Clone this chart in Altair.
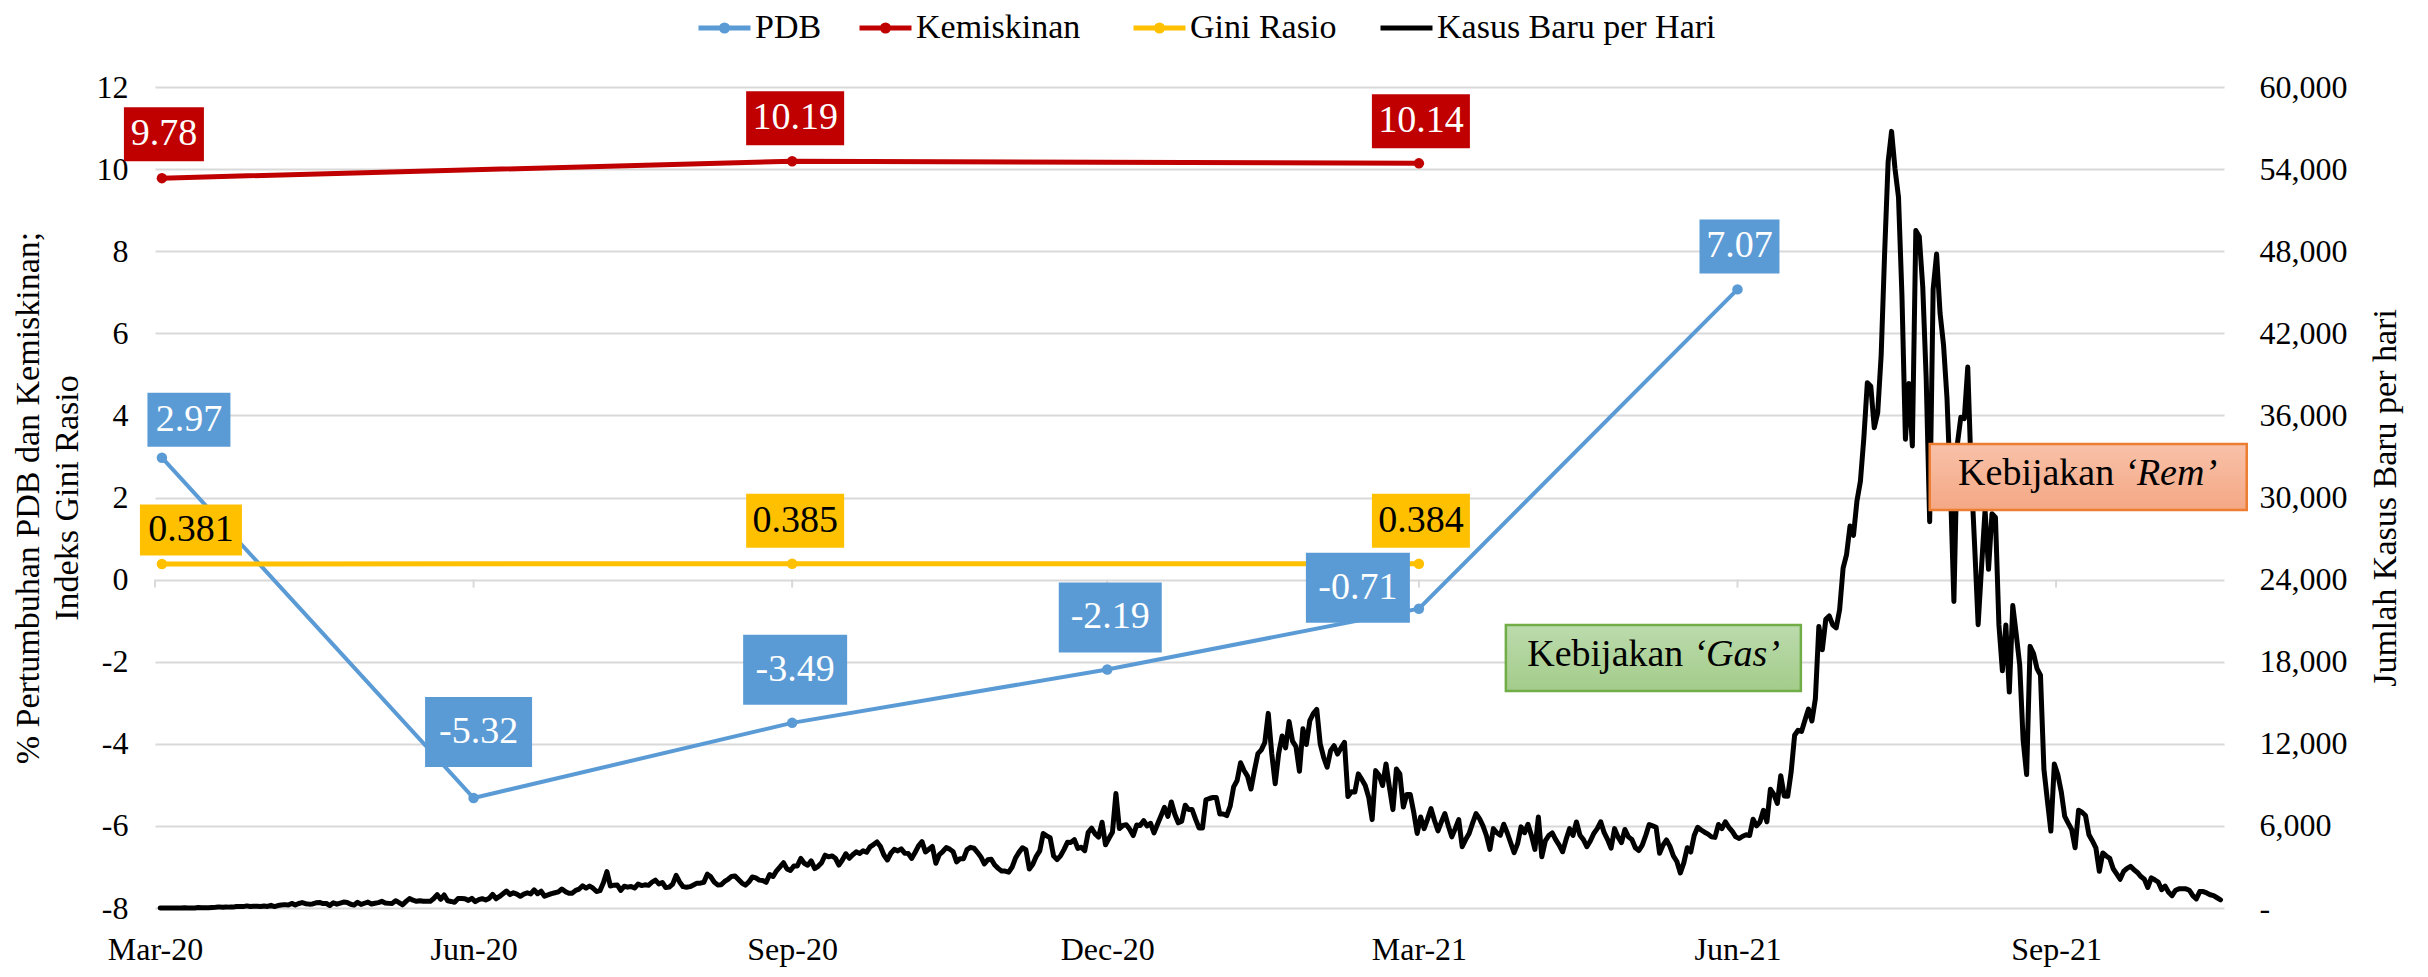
import altair as alt
import pandas as pd

FONT = "Liberation Serif"

# ---------------- Kasus Baru per Hari (daily new cases) ----------------
mar20 = [2, 0, 0, 0, 2, 0, 2, 13, 8, 7, 0, 35, 27, 21, 17, 38, 55, 82, 60, 81, 64, 65, 106, 105, 103, 153, 109, 130, 129, 114]
apr20 = [149, 113, 196, 106, 181, 218, 247, 218, 337, 219, 330, 399, 316, 282, 297, 380, 407, 325, 327, 185, 375, 283, 357, 436, 396, 275, 214, 415, 260, 347]
may20 = [433, 292, 349, 395, 484, 367, 338, 336, 533, 387, 233, 484, 689, 568, 490, 529, 489, 496, 486, 693, 973, 634, 949, 526, 479, 415, 686, 687, 678, 557, 700]
jun20 = [467, 609, 684, 585, 703, 993, 672, 847, 1043, 1241, 979, 1111, 1014, 857, 1017, 1106, 1031, 1331, 1041, 1226, 862, 954, 1051, 1113, 1178, 1385, 1198, 1082, 1082, 1293]
jul20 = [1385, 1624, 1447, 1607, 1447, 1209, 1268, 1853, 2657, 1611, 1671, 1681, 1282, 1591, 1522, 1574, 1462, 1752, 1639, 1693, 1655, 1882, 2040, 1761, 1868, 1492, 1525, 1748, 2381, 1904, 1560]
aug20 = [1519, 1560, 1679, 1815, 1815, 1882, 2473, 2277, 1893, 1687, 1693, 1942, 2098, 2307, 2345, 2081, 1821, 1673, 1902, 2266, 2197, 2037, 2006, 1877, 2447, 2306, 2719, 3003, 3308, 2858, 2743]
sep20 = [3075, 3075, 3622, 3269, 3128, 3444, 2880, 3046, 3307, 3861, 3737, 3806, 3636, 3141, 3507, 3963, 3635, 3891, 4106, 3989, 4176, 4071, 4465, 4634, 4823, 4494, 3874, 3509, 4002, 4284]
oct20 = [4174, 4317, 4007, 3992, 3622, 4056, 4538, 4850, 4094, 4294, 4497, 3267, 3906, 4127, 4411, 4301, 4105, 3373, 3602, 3602, 4267, 4432, 4369, 4070, 3732, 3222, 3520, 3565, 3143, 2897, 2696]
nov20 = [2696, 2618, 2973, 3650, 4065, 4400, 4262, 2853, 3200, 3779, 4173, 5444, 5272, 5131, 3807, 3535, 3807, 4265, 4798, 4792, 4998, 4360, 4442, 4192, 5534, 5828, 5418, 5183, 6267, 4617]
dec20 = [5092, 5533, 8369, 5803, 6027, 6089, 5754, 5292, 6058, 6033, 6388, 5998, 6189, 5489, 6120, 6725, 7354, 6689, 7751, 6848, 6226, 6347, 7514, 7199, 7200, 6500, 5854, 5854, 7903, 8002, 8074]
jan21 = [8072, 6877, 6877, 6753, 7445, 8854, 9321, 10617, 10046, 9640, 8692, 10047, 11278, 11557, 12100, 14224, 11287, 9086, 11287, 12568, 11703, 13632, 12191, 11788, 9994, 13094, 11948, 13695, 14204, 14518, 12001]
feb21 = [11000, 10290, 11500, 11860, 11250, 11700, 12100, 8150, 8500, 8470, 9800, 9400, 8950, 8100, 6460, 10040, 9700, 8950, 10530, 8800, 7190, 10160, 9800, 7380, 8300, 8300, 7000, 5450]
mar21 = [6650, 5800, 6500, 7260, 6400, 5640, 6300, 6900, 6000, 5200, 5800, 6460, 4480, 5000, 5450, 6200, 6900, 6530, 6000, 5300, 4280, 5800, 5500, 5320, 6120, 5500, 4770, 4040, 4700, 5930, 5500]
apr21 = [6120, 5300, 4280, 6650, 3750, 4900, 5300, 5490, 5000, 4600, 4110, 5000, 5800, 5300, 6290, 5320, 5000, 4480, 4900, 5450, 5800, 6300, 5500, 5000, 4380, 5800, 5200, 4780, 5740, 5200]
may21 = [5000, 4400, 4200, 4590, 5300, 6100, 6000, 5900, 4000, 4600, 4970, 4500, 3800, 3400, 2560, 3300, 4400, 4090, 5300, 5900, 5700, 5540, 5400, 5200, 5160, 6100, 5800, 6300, 5900, 5600, 5200]
jun21 = [5080, 5246, 5353, 5300, 6486, 6000, 6300, 7140, 6300, 8680, 8300, 7650, 9670, 8189, 8161, 9944, 12624, 12990, 12906, 13737, 14536, 13668, 15308, 20574, 18872, 21095, 21342, 20694, 20467, 21807]
jul21 = [24836, 25830, 27913, 27233, 29745, 31189, 34379, 38391, 38124, 35094, 36197, 40427, 47899, 54517, 56757, 54000, 51952, 44721, 34257, 38325, 33772, 49509, 49071, 45416, 38679, 28228, 45203, 47791, 43479, 41168, 37284]
aug21 = [30738, 22404, 33900, 35867, 35764, 39532, 31753, 26415, 20709, 25000, 29100, 24750, 28820, 28540, 20690, 17330, 20690, 15780, 22100, 20000, 17780, 12240, 9750, 19120, 18600, 17500, 17020, 10130, 7840, 5620, 10520]
sep21 = [9750, 8500, 6690, 6200, 5740, 4400, 7140, 7000, 6760, 5350, 4900, 4400, 2680, 4020, 3800, 3630, 2870, 2500, 2100, 2670, 2900, 3040, 2800, 2600, 2300, 2100, 1500, 2200, 2060, 1900]
oct21 = [1340, 1600, 1150, 900, 1300, 1400, 1400, 1400, 1300, 900, 660, 1200, 1200, 1100, 970, 900, 750, 600]

case_months = [
    ("2020-03-02", mar20), ("2020-04-01", apr20), ("2020-05-01", may20), ("2020-06-01", jun20),
    ("2020-07-01", jul20), ("2020-08-01", aug20), ("2020-09-01", sep20), ("2020-10-01", oct20),
    ("2020-11-01", nov20), ("2020-12-01", dec20), ("2021-01-01", jan21), ("2021-02-01", feb21),
    ("2021-03-01", mar21), ("2021-04-01", apr21), ("2021-05-01", may21), ("2021-06-01", jun21),
    ("2021-07-01", jul21), ("2021-08-01", aug21), ("2021-09-01", sep21), ("2021-10-01", oct21),
]

# ---------------- quarterly series ----------------
pdb_dates = ["2020-03-03", "2020-06-01", "2020-09-01", "2020-12-01", "2021-03-01", "2021-06-01"]
pdb_values = [2.97, -5.32, -3.49, -2.19, -0.71, 7.07]
kem_dates = ["2020-03-03", "2020-09-01", "2021-03-01"]
kem_values = [9.78, 10.19, 10.14]
gini_dates = ["2020-03-03", "2020-09-01", "2021-03-01"]
gini_values = [0.381, 0.385, 0.384]

series_names = ["PDB", "Kemiskinan", "Gini Rasio"]
case_name = "Kasus Baru per Hari"

left_ticks = [-8, -6, -4, -2, 0, 2, 4, 6, 8, 10, 12]
right_ticks = [0, 6000, 12000, 18000, 24000, 30000, 36000, 42000, 48000, 54000, 60000]
x_tick_dates = ["2020-03-01", "2020-06-01", "2020-09-01", "2020-12-01", "2021-03-01", "2021-06-01", "2021-09-01"]

left_title = ["% Pertumbuhan PDB dan Kemiskinan;", "Indeks Gini Rasio"]
right_title = "Jumlah Kasus Baru per hari"

annotations = [
    {"date": "2021-05-07T17:00:00", "cases": 18270, "word": "Kebijakan", "italic": "\u2018Gas\u2019"},
    {"date": "2021-09-10T07:00:00", "cases": 31500, "word": "Kebijakan", "italic": "\u2018Rem\u2019"},
]

# ---------------- styles ----------------
COL = {"PDB": "#5B9BD5", "Kemiskinan": "#C00000", "Gini Rasio": "#FFC000", case_name: "#000000"}
LINE_W = {"PDB": 4, "Kemiskinan": 5, "Gini Rasio": 5}
TXT_COL = {"PDB": "#FFFFFF", "Kemiskinan": "#FFFFFF", "Gini Rasio": "#000000"}
LEGEND_X = {"PDB": 552.5, "Kemiskinan": 713.5, "Gini Rasio": 987.5, case_name: 1234.5}
# (dx, dy, box width, box height) for each data label, in pixels
LABEL_BOX = {
    "PDB": [(27, -38, 83, 54), (5, -66, 107, 70), (3, -53, 104, 70), (3, -52, 103, 70), (-61, -21, 104, 70), (2, -43, 80, 54)],
    "Kemiskinan": [(2, -44, 80, 54), (3, -43, 98, 54), (2, -42, 98, 54)],
    "Gini Rasio": [(29, -34, 102, 51), (3, -43, 98, 54), (2, -43, 98, 54)],
}
ANN_STYLE = [
    {"w": 295, "h": 66, "stroke": "#70AD47", "top": "#BCDBAD", "bottom": "#A3CC8A", "split": 40},
    {"w": 317, "h": 66, "stroke": "#ED7D31", "top": "#F8C1A9", "bottom": "#F4A884", "split": 36},
]


def noon(s):
    return pd.Timestamp(s) + pd.Timedelta(hours=12)


rows = []
for start, vals in case_months:
    d0 = noon(start)
    for i, v in enumerate(vals):
        rows.append({"date": d0 + pd.Timedelta(days=i), "cases": v, "series": case_name})
cases_df = pd.DataFrame(rows)


def qdf(dates, values, name, decimals):
    return pd.DataFrame({
        "date": [pd.Timestamp(d) for d in dates],
        "value": values,
        "series": name,
        "label": [f"{v:.{decimals}f}" for v in values],
    })


pdb_df = qdf(pdb_dates, pdb_values, "PDB", 2)
kem_df = qdf(kem_dates, kem_values, "Kemiskinan", 2)
gini_df = qdf(gini_dates, gini_values, "Gini Rasio", 3)
ticks_df = pd.DataFrame({"date": [pd.Timestamp(d) for d in x_tick_dates], "value": 0})


def dt(s, hours=0):
    t = pd.Timestamp(s)
    return alt.DateTime(year=t.year, month=t.month, date=t.day, hours=hours)


x_scale = alt.Scale(domain=[dt("2020-03-01"), dt("2021-10-19", 12)], nice=False)
x_axis = alt.Axis(values=[dt(d) for d in x_tick_dates], format="%b-%y", labelFont=FONT, labelFontSize=32,
                  labelColor="#000000", labelPadding=51, labelBaseline="alphabetic", labelFlush=False,
                  labelOverlap=False, domain=False, ticks=False, grid=False, labelAngle=0, title=None)
X = alt.X("date:T", scale=x_scale, axis=x_axis)

yl_axis = alt.Axis(orient="left", values=left_ticks, labelExpr="datum.value + ''", labelFont=FONT,
                   labelFontSize=32, labelColor="#000000", labelPadding=27, domain=False, ticks=False,
                   grid=True, gridColor="#D9D9D9", gridWidth=2, title=left_title, titleFont=FONT,
                   titleFontSize=34, titleFontWeight="normal", titleColor="#000000", titlePadding=12,
                   titleLineHeight=39)
YL = alt.Y("value:Q", scale=alt.Scale(domain=[-8, 12], nice=False, zero=False), axis=yl_axis)

yr_axis = alt.Axis(orient="right", values=right_ticks,
                   labelExpr="datum.value == 0 ? '\u00a0\u00a0-' : format(datum.value, ',')",
                   labelAlign="left", labelFont=FONT, labelFontSize=32, labelColor="#000000", labelPadding=35,
                   domain=False, ticks=False, grid=False, title=right_title, titleFont=FONT, titleFontSize=34,
                   titleFontWeight="normal", titleColor="#000000", titleAngle=270, titleBaseline="top",
                   titlePadding=21)
YR = alt.Y("cases:Q", scale=alt.Scale(domain=[0, 60000], nice=False), axis=yr_axis)

# legend symbols: 52 px wide line (path spans -2..2 at scale 13), with a dot for the quarterly series
DOT_LINE = "M-2,0H2M-0.24,0A0.24,0.24,0,1,1,0.24,0A0.24,0.24,0,1,1,-0.24,0"
PLAIN_LINE = "M-2,0H2"


def series_color(name):
    legend = alt.Legend(orient="none", legendX=LEGEND_X[name], legendY=-76, title=None,
                        symbolType=PLAIN_LINE if name == case_name else DOT_LINE, symbolSize=676,
                        symbolStrokeWidth=5, labelFont=FONT, labelFontSize=34, labelColor="#000000",
                        labelOffset=13.5, padding=0, labelLimit=0)
    return alt.Color("series:N", scale=alt.Scale(domain=[name], range=[COL[name]]), legend=legend)


# ---------------- left-axis group ----------------
left_layers = [
    alt.Chart(ticks_df).mark_tick(orient="vertical", size=8, thickness=2, color="#D9D9D9", opacity=1,
                                  yOffset=4).encode(x=X, y=YL)
]
for name, df in [("PDB", pdb_df), ("Kemiskinan", kem_df), ("Gini Rasio", gini_df)]:
    left_layers.append(alt.Chart(df).mark_line(strokeWidth=LINE_W[name], strokeCap="round")
                       .encode(x=X, y=YL, color=series_color(name)))
for name, df in [("PDB", pdb_df), ("Kemiskinan", kem_df), ("Gini Rasio", gini_df)]:
    left_layers.append(alt.Chart(df).mark_point(filled=True, size=110, opacity=1, color=COL[name])
                       .encode(x=X, y=YL))
for name, df in [("PDB", pdb_df), ("Kemiskinan", kem_df), ("Gini Rasio", gini_df)]:
    for i, (dx, dy, w, h) in enumerate(LABEL_BOX[name]):
        one = df.iloc[[i]]
        path = f"M{-w/100},{-h/100}H{w/100}V{h/100}H{-w/100}Z"
        left_layers.append(alt.Chart(one).mark_point(shape=path, size=10000, filled=True, fill=COL[name],
                                                     opacity=1, strokeWidth=0, xOffset=dx, yOffset=dy)
                           .encode(x=X, y=YL))
        left_layers.append(alt.Chart(one).mark_text(font=FONT, fontSize=38, color=TXT_COL[name],
                                                    xOffset=dx, yOffset=dy, align="center",
                                                    baseline="middle")
                           .encode(x=X, y=YL, text="label:N"))
left = alt.layer(*left_layers).resolve_scale(color="independent")

# ---------------- right-axis group ----------------
right_layers = [
    alt.Chart(cases_df).mark_line(strokeWidth=5, strokeJoin="round", strokeCap="round")
    .encode(x=X, y=YR, color=series_color(case_name))
]
for ann, st in zip(annotations, ANN_STYLE):
    one = pd.DataFrame([{"date": pd.Timestamp(ann["date"]), "cases": ann["cases"],
                         "word": ann["word"], "italic": ann["italic"]}])
    w, h = st["w"], st["h"]
    path = f"M{-w/100},{-h/100}H{w/100}V{h/100}H{-w/100}Z"
    grad = {"gradient": "linear", "x1": 0, "y1": 0, "x2": 0, "y2": 1,
            "stops": [{"offset": 0, "color": st["top"]}, {"offset": 1, "color": st["bottom"]}]}
    right_layers.append(alt.Chart(one).mark_point(shape=path, size=10000, filled=True, fill=grad,
                                                  stroke=st["stroke"], strokeWidth=2.5, opacity=1)
                        .encode(x=X, y=YR))
    right_layers.append(alt.Chart(one).mark_text(font=FONT, fontSize=38, color="#000000", align="right",
                                                 baseline="middle", xOffset=st["split"] - 10, yOffset=-3)
                        .encode(x=X, y=YR, text="word:N"))
    right_layers.append(alt.Chart(one).mark_text(font=FONT, fontSize=38, color="#000000", align="left",
                                                 fontStyle="italic", baseline="middle", xOffset=st["split"],
                                                 yOffset=-3)
                        .encode(x=X, y=YR, text="italic:N"))
right = alt.layer(*right_layers)

chart = (
    alt.layer(right, left)
    .resolve_scale(y="independent", color="independent")
    .properties(width=2069, height=821, autosize=alt.AutoSizeParams(type="none"),
                padding={"left": 147, "top": 79, "right": 190, "bottom": 60})
    .configure(font=FONT)
    .configure_view(strokeWidth=0)
)

chart.save("out.html", embed_options={"renderer": "svg", "actions": False})
